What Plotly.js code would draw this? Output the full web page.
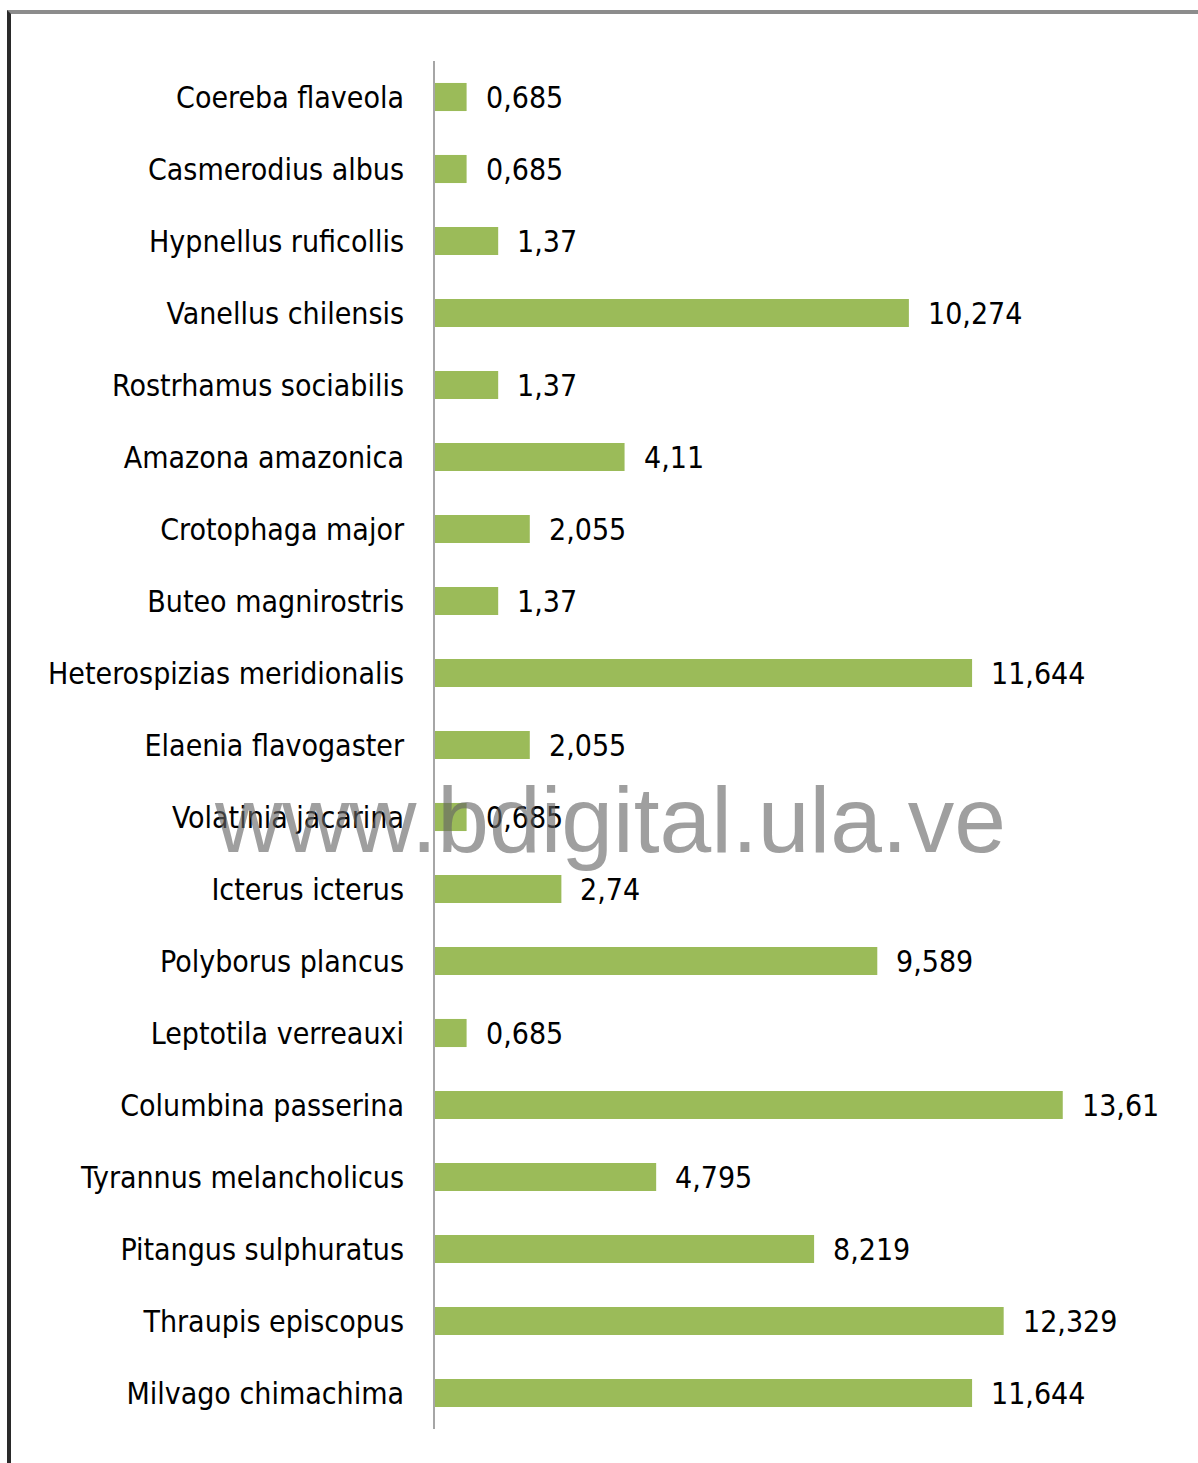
<!DOCTYPE html>
<html>
<head>
<meta charset="utf-8">
<script src="https://cdn.plot.ly/plotly-3.0.1.min.js"></script>
<style>
  html, body { margin: 0; padding: 0; background: #fff; }
  #wrap { position: relative; width: 1198px; height: 1463px; overflow: hidden; }
  #chart { position: absolute; left: 0; top: 0; width: 1198px; height: 1463px; }
  #frame { position: absolute; left: 7px; top: 10px; width: 1200px; height: 1460px;
           border-top: 4px solid #8c8c8c; border-left: 4px solid #2a2a2a; pointer-events: none; box-sizing: border-box; }
</style>
</head>
<body>
<div id="wrap">
  <div id="chart"></div>
  <div id="frame"></div>
</div>
<script>
const species = [
  "Coereba flaveola",
  "Casmerodius albus",
  "Hypnellus ruficollis",
  "Vanellus chilensis",
  "Rostrhamus sociabilis",
  "Amazona amazonica",
  "Crotophaga major",
  "Buteo magnirostris",
  "Heterospizias meridionalis",
  "Elaenia flavogaster",
  "Volatinia jacarina",
  "Icterus icterus",
  "Polyborus plancus",
  "Leptotila verreauxi",
  "Columbina passerina",
  "Tyrannus melancholicus",
  "Pitangus sulphuratus",
  "Thraupis episcopus",
  "Milvago chimachima"
];
const values = [0.685, 0.685, 1.37, 10.274, 1.37, 4.11, 2.055, 1.37, 11.644, 2.055,
                0.685, 2.74, 9.589, 0.685, 13.61, 4.795, 8.219, 12.329, 11.644];
const watermark = "www.bdigital.ula.ve";

const FONT = "'Liberation Sans Narrow', 'DejaVu Sans Condensed', 'Arial Narrow', sans-serif";

const trace = {
  type: 'bar',
  orientation: 'h',
  x: values,
  y: species,
  marker: { color: '#9BBB59' },
  hoverinfo: 'none'
};

const annotations = values.map((v, i) => ({
  x: v, y: species[i], xref: 'x', yref: 'y',
  text: String(v).replace('.', ','),
  showarrow: false, xanchor: 'left', xshift: 17, yshift: 0,
  font: { family: FONT, size: 30, color: '#000' }
}));

annotations.push({
  xref: 'paper', yref: 'paper', x: 0.237, y: 0.445,
  text: watermark, showarrow: false, xanchor: 'center', yanchor: 'middle',
  font: { family: "'Liberation Sans', Arial, sans-serif", size: 93, color: 'rgba(100,100,100,0.62)' }
});

const layout = {
  width: 1198, height: 1463,
  margin: { l: 435, r: 25, t: 61, b: 34, pad: 0 },
  paper_bgcolor: 'rgba(0,0,0,0)',
  plot_bgcolor: 'rgba(0,0,0,0)',
  showlegend: false,
  bargap: 0.61,
  xaxis: {
    range: [0, 16], showgrid: false, zeroline: false, showline: false,
    showticklabels: false, ticks: '', fixedrange: true
  },
  yaxis: {
    autorange: 'reversed', showgrid: false, zeroline: false,
    showline: true, linecolor: '#a6a6a6', linewidth: 2,
    ticks: '', ticklabelstandoff: 23,
    tickfont: { family: FONT, size: 30, color: '#000' }
  },
  annotations: annotations
};

Plotly.newPlot('chart', [trace], layout, { staticPlot: true, displayModeBar: false });
</script>
</body>
</html>
